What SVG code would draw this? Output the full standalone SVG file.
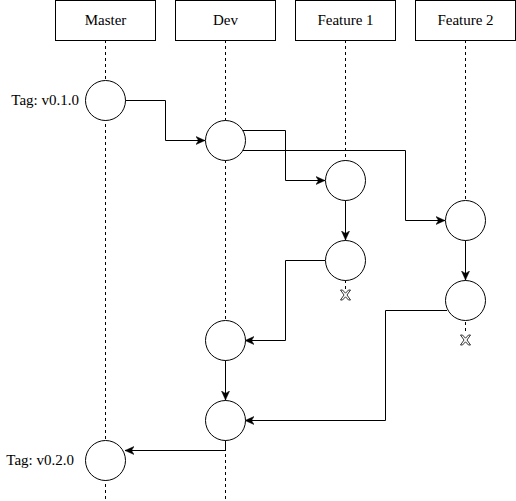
<svg xmlns="http://www.w3.org/2000/svg" width="516" height="501" viewBox="0 0 516 501">
<style>
.hdr{fill:#fff;stroke:#000;stroke-width:1}
.life{stroke:#000;stroke-width:1;stroke-dasharray:3 3;fill:none}
.c{fill:#fff;stroke:#000;stroke-width:1}
.e{fill:none;stroke:#000;stroke-width:1;marker-end:url(#a)}
.t{font-family:"Liberation Serif","Times New Roman",serif;font-size:15px;fill:#000}
.x{fill:#fff;stroke:#000;stroke-width:0.8}
</style>
<defs>
<marker id="a" viewBox="0 0 10 10" refX="9" refY="5" markerWidth="10" markerHeight="10" markerUnits="userSpaceOnUse" orient="auto">
<path d="M0,1 L9,5 L0,9 L2.5,5 Z" fill="#000" stroke="#000" stroke-width="0.5"/>
</marker>
</defs>
<rect width="516" height="501" fill="#fff"/>
<g id="lifelines">
<line class="life" x1="105.5" y1="40" x2="105.5" y2="501"/>
<line class="life" x1="225.5" y1="40" x2="225.5" y2="501"/>
<line class="life" x1="345.5" y1="40" x2="345.5" y2="289"/>
<line class="life" x1="465.5" y1="40" x2="465.5" y2="334"/>
</g>
<g id="lane-master"><rect class="hdr" x="55.5" y="0.5" width="100" height="40"/><text class="t" x="105.5" y="25" text-anchor="middle">Master</text></g>
<g id="lane-dev"><rect class="hdr" x="175.5" y="0.5" width="100" height="40"/><text class="t" x="225.5" y="25" text-anchor="middle">Dev</text></g>
<g id="lane-f1"><rect class="hdr" x="295.5" y="0.5" width="100" height="40"/><text class="t" x="345.5" y="25" text-anchor="middle">Feature 1</text></g>
<g id="lane-f2"><rect class="hdr" x="415.5" y="0.5" width="100" height="40"/><text class="t" x="465.5" y="25" text-anchor="middle">Feature 2</text></g>
<g id="connectors">
<path class="e" d="M125,100.5 H165.5 V140.5 H205"/>
<path class="e" d="M243,130.5 H285.5 V180.5 H325"/>
<path class="e" d="M243,150.5 H405.5 V220.5 H445"/>
<path class="e" d="M345.5,200 V240"/>
<path class="e" d="M325,260.5 H285.5 V340.5 H245"/>
<path class="e" d="M465.5,240 V280"/>
<path class="e" d="M447,310.5 H385.5 V420.5 H245"/>
<path class="e" d="M225.5,360 V400"/>
<path class="e" d="M225.5,440 V450.5 H125"/>
</g>
<g id="m1"><circle class="c" cx="105.5" cy="100.5" r="20"/><text class="t" x="79" y="104.5" text-anchor="end">Tag: v0.1.0</text></g>
<g id="d1"><circle class="c" cx="225.5" cy="140.5" r="20"/></g>
<g id="f1a"><circle class="c" cx="345.5" cy="180.5" r="20"/></g>
<g id="f2a"><circle class="c" cx="465.5" cy="220.5" r="20"/></g>
<g id="f1b"><circle class="c" cx="345.5" cy="260.5" r="20"/></g>
<g id="f2b"><circle class="c" cx="465.5" cy="300.5" r="20"/></g>
<g id="d2"><circle class="c" cx="225.5" cy="340.5" r="20"/></g>
<g id="d3"><circle class="c" cx="225.5" cy="420.5" r="20"/></g>
<g id="m2"><circle class="c" cx="105.5" cy="460.5" r="20"/><text class="t" x="74" y="465" text-anchor="end">Tag: v0.2.0</text></g>
<g id="x1"><polygon class="x" transform="translate(345.5,295)" points="-5,-5 -3,-5 0,-1.8 3,-5 5,-5 1.5,0 5,5 3,5 0,1.8 -3,5 -5,5 -1.5,0"/></g>
<g id="x2"><polygon class="x" transform="translate(465.5,340)" points="-5,-5 -3,-5 0,-1.8 3,-5 5,-5 1.5,0 5,5 3,5 0,1.8 -3,5 -5,5 -1.5,0"/></g>
</svg>
